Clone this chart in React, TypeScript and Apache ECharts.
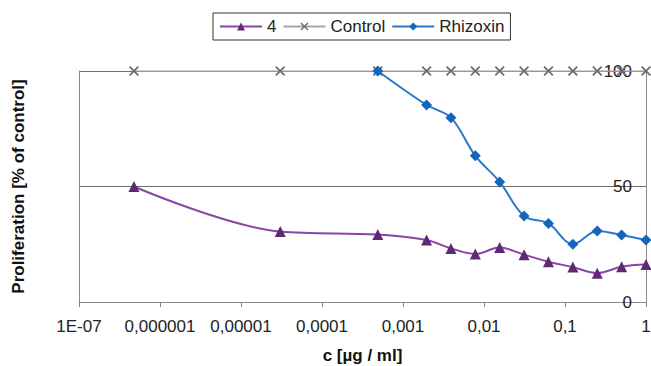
import React, { useEffect, useRef } from "react";
import * as echarts from "echarts";

const xTickLabels = ["1E-07", "0,000001", "0,00001", "0,0001", "0,001", "0,01", "0,1", "1"];
const yTicks = [0, 50, 100];

const concAll = [
  4.77e-7, 3.05e-5, 0.00048828, 0.0019531, 0.0039063, 0.0078125, 0.015625,
  0.03125, 0.0625, 0.125, 0.25, 0.5, 1,
];
const compound4 = [50, 30.5, 29.2, 26.8, 23.2, 20.8, 23.6, 20.5, 17.4, 15.1, 12.5, 15.3, 16.2];
const control = [100, 100, 100, 100, 100, 100, 100, 100, 100, 100, 100, 100, 100];

const concRhizoxin = [
  0.00048828, 0.0019531, 0.0039063, 0.0078125, 0.015625, 0.03125, 0.0625,
  0.125, 0.25, 0.5, 1,
];
const rhizoxin = [100, 85.3, 79.8, 63.3, 52, 37.2, 34, 25, 30.7, 29, 26.8];

const FONT = "'Liberation Sans', Arial, sans-serif";
const CROSS =
  "path://M0,1.2L1.2,0L5,3.8L8.8,0L10,1.2L6.2,5L10,8.8L8.8,10L5,6.2L1.2,10L0,8.8L3.8,5Z";

export default function App() {
  const ref = useRef<HTMLDivElement>(null);
  useEffect(() => {
    if (!ref.current) return;
    const chart = echarts.init(ref.current, null, { renderer: "svg" });
    const pair = (xs: number[], ys: number[]) => xs.map((x, i) => [x, ys[i]]);
    chart.setOption({
      animation: false,
      backgroundColor: "#ffffff",
      textStyle: { fontFamily: FONT },
      legend: {
        left: 213,
        top: 13,
        padding: [5, 6],
        borderColor: "#333",
        borderWidth: 1,
        itemWidth: 42,
        itemHeight: 10,
        itemGap: 6,
        textStyle: { fontSize: 17, color: "#222", fontFamily: FONT },
        data: ["4", "Control", "Rhizoxin"],
      },
      grid: {
        left: 79,
        right: 5,
        top: 71,
        bottom: 64,
        containLabel: false,
        outerBoundsMode: "none",
      },
      xAxis: {
        type: "log",
        logBase: 10,
        min: 1e-7,
        max: 1,
        name: "c [µg / ml]",
        nameLocation: "middle",
        nameGap: 45,
        nameTextStyle: { fontSize: 17, fontWeight: "bold", color: "#111", fontFamily: FONT },
        axisLine: { show: true, lineStyle: { color: "#888", width: 1 } },
        axisTick: { show: true, length: 5, lineStyle: { color: "#888" } },
        minorTick: { show: false },
        splitLine: { show: false },
        axisLabel: {
          fontSize: 17,
          color: "#222",
          margin: 16,
          showMinLabel: true,
          showMaxLabel: true,
          formatter: (v: number) => {
            const i = Math.round(Math.log10(v)) + 7;
            return xTickLabels[i] ?? "";
          },
        },
      },
      yAxis: [
        {
          type: "value",
          position: "right",
          min: yTicks[0],
          max: yTicks[yTicks.length - 1],
          interval: 50,
          axisLine: { show: true, lineStyle: { color: "#888", width: 1 } },
          axisTick: { show: false },
          splitLine: { show: true, lineStyle: { color: "#6e6e6e", width: 1 } },
          axisLabel: { inside: true, margin: 14, fontSize: 17, color: "#222" },
        },
        {
          type: "value",
          position: "left",
          min: 0,
          max: 100,
          interval: 50,
          name: "Proliferation [% of control]",
          nameLocation: "middle",
          nameGap: 52,
          nameTextStyle: { fontSize: 17, fontWeight: "bold", color: "#111", fontFamily: FONT },
          axisLine: { show: true, lineStyle: { color: "#888", width: 1 } },
          axisTick: { show: false },
          splitLine: { show: false },
          axisLabel: { show: false },
        },
      ],
      series: [
        {
          name: "4",
          type: "line",
          yAxisIndex: 0,
          data: pair(concAll, compound4),
          smooth: 0.35,
          symbol: "triangle",
          symbolSize: 11,
          lineStyle: { color: "#8a45a6", width: 2 },
          itemStyle: { color: "#5e2a74" },
          z: 3,
        },
        {
          name: "Control",
          type: "line",
          yAxisIndex: 0,
          data: pair(concAll, control),
          symbol: CROSS,
          symbolSize: 10,
          lineStyle: { color: "#a8a8a8", width: 1.5 },
          itemStyle: { color: "#6a6a6a" },
          z: 4,
        },
        {
          name: "Rhizoxin",
          type: "line",
          yAxisIndex: 0,
          data: pair(concRhizoxin, rhizoxin),
          smooth: 0.35,
          symbol: "diamond",
          symbolSize: 11,
          lineStyle: { color: "#2c78c8", width: 2 },
          itemStyle: { color: "#1466bd" },
          z: 5,
        },
      ],
    });
    return () => chart.dispose();
  }, []);
  return (
    <div
      ref={ref}
      style={{ position: "fixed", left: 0, top: 0, width: 651, height: 366, background: "#fff" }}
    />
  );
}
